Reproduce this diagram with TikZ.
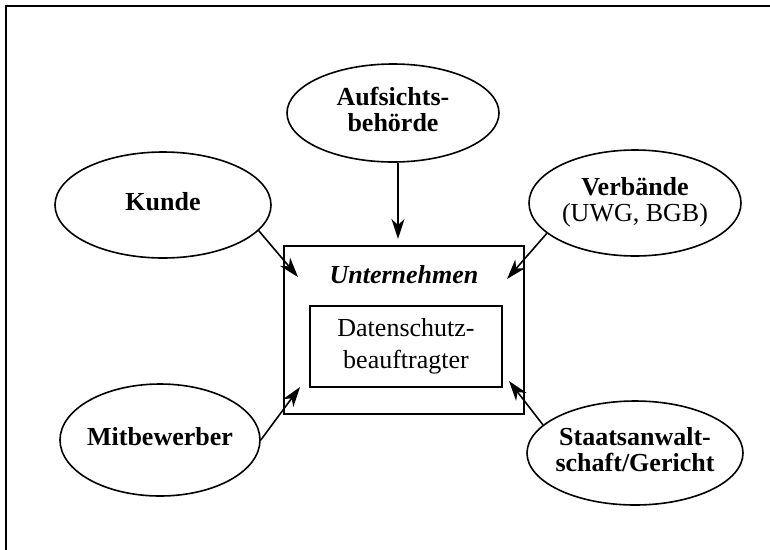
\documentclass[tikz,border=0pt]{standalone}
\usepackage{fontspec}
\setmainfont{Liberation Serif}
\usetikzlibrary{shapes.geometric,arrows.meta}
\newcommand{\ctxt}[1]{\makebox[0pt]{\begin{tabular}{@{}c@{}}#1\end{tabular}}}
\begin{document}
\begin{tikzpicture}[x=1pt,y=-1pt,
  oval/.style={draw,ellipse,line width=1.6pt,inner sep=0pt,
    font=\fontsize{26}{27}\selectfont\bfseries},
  boxA/.style={draw,line width=1.6pt,inner sep=0pt},
  arr/.style={line width=1.6pt,-{Stealth[length=20pt,width=13pt,inset=6pt]}}]
\useasboundingbox (0,0) rectangle (770,549);
\draw[line width=2.5pt] (6,560) -- (6,6) -- (780,6);
% ellipses
\node[oval,minimum width=212pt,minimum height=98pt] (aufs) at (393,113) {\ctxt{Aufsichts-\\[-1pt]behörde}};
\node[oval,minimum width=216pt,minimum height=106pt] (kunde) at (163,205) {\ctxt{Kunde}};
\node[oval,minimum width=212pt,minimum height=106pt] (verb) at (635,203) {\ctxt{Verbände\\[-1pt]\mdseries (UWG, BGB)}};
\node[oval,minimum width=200pt,minimum height=112pt] (mitb) at (160,440) {\ctxt{Mitbewerber}};
\node[oval,minimum width=216pt,minimum height=104pt] (staat) at (635,453) {\ctxt{Staatsanwalt-\\[-1pt]schaft/Gericht}};
% boxes
\node[boxA,minimum width=240pt,minimum height=168pt] (unt) at (404,330) {};
\node[font=\fontsize{26}{27}\selectfont\bfseries\itshape] (untt) at (404,275) {Unternehmen};
\node[boxA,minimum width=192pt,minimum height=81pt,
  font=\fontsize{26}{32}\selectfont] (dsb) at (406,346.5) {\ctxt{Datenschutz-\\beauftragter}};
% arrow tips
\coordinate (tA) at (398,239);
\coordinate (tK) at (298,277);
\coordinate (tV) at (507,279);
\coordinate (tM) at (300,387);
\coordinate (tS) at (509,381);
\draw[arr] (aufs.south -| tA) -- (tA);
\draw[arr] (kunde.-15.7) -- (tK);
\draw[arr] (verb.199.4) -- (tV);
\draw[arr] (mitb.0) -- (tM);
\draw[arr] (staat.163) -- (tS);
\end{tikzpicture}
\end{document}
